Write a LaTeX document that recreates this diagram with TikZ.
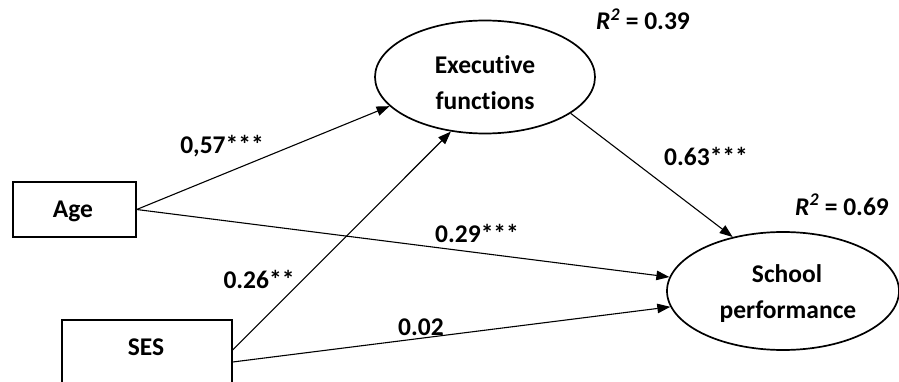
\documentclass[tikz,border=0pt]{standalone}
\usepackage{fontspec}
\setmainfont{Carlito}[Ligatures={NoCommon}]
\usetikzlibrary{shapes.geometric,arrows.meta}
\begin{document}
\begin{tikzpicture}[x=1pt,y=-1pt,
  every node/.style={font=\bfseries\fontsize{25.5}{36}\selectfont},
  latent/.style={ellipse,draw,line width=1.7pt,inner sep=0pt},
  observed/.style={rectangle,draw,line width=1.4pt,inner sep=0pt},
  path/.style={line width=1.1pt,-{Triangle[length=13pt,width=9.5pt]}},
  lbl/.style={inner sep=0pt,anchor=base}]
\useasboundingbox (0,0) rectangle (899,382);
\node[latent,minimum width=220pt,minimum height=113pt] (EF) at (485,77) {};
\node[lbl] (EF1) at (485,74) {Executive};
\node[lbl] (EF2) at (485,110) {functions};
\node[latent,minimum width=232pt,minimum height=118pt] (SP) at (783,291) {};
\node[lbl] (SP1) at (787,282) {School};
\node[lbl] (SP2) at (788,318) {performance};
\node[observed,minimum width=123pt,minimum height=55pt] (Age) at (74.5,209.5) {};
\node[lbl] (Aget) at (73,217) {Age};
\node[observed,minimum width=170pt,minimum height=64pt] (SES) at (147,352) {};
\node[lbl] (SESt) at (146,355) {SES};
\draw[path] (Age.east) -- (EF.197);
\draw[path] (Age.east) -- (SP.173.6);
\draw[path] ([yshift=2pt]SES.east) -- (EF.238);
\draw[path] ([yshift=-10pt]SES.east) -- (SP.188.6);
\draw[path] (EF.337.8) -- (SP.133.4);
\node[lbl] (c1) at (222,154) {0,57***};
\node[lbl] (c2) at (477,242) {0.29***};
\node[lbl] (c3) at (259,288) {0.26**};
\node[lbl] (c4) at (421,335) {0.02};
\node[lbl] (c5) at (706,166) {0.63***};
\node[lbl] (r1) at (643,30) {{\itshape R\textsuperscript{2}} = 0.39};
\node[lbl] (r2) at (842,215) {{\itshape R\textsuperscript{2}} = 0.69};
\end{tikzpicture}
\end{document}
